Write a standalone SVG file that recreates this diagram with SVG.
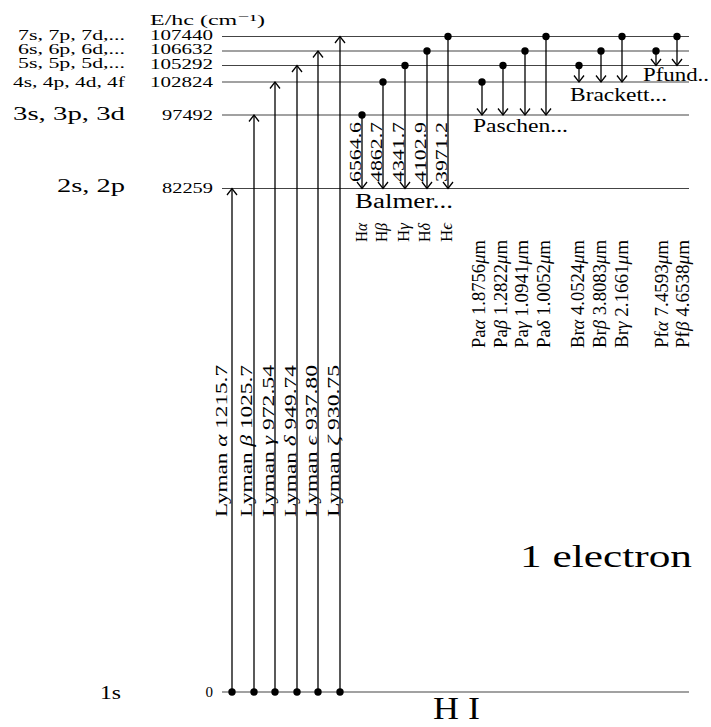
<svg xmlns="http://www.w3.org/2000/svg" width="711" height="727" viewBox="0 0 711 727">
<style>
text{font-family:"Liberation Serif","DejaVu Serif",serif;fill:#000;}
.s{font-size:15px;}
.xs{font-size:14px;}
.m{font-size:17px;}
.p{font-size:18px;}
.l{font-size:19px;}
.lvl{stroke:#444;stroke-width:1.2;fill:none;}
.tr{stroke:#000;stroke-width:1.3;fill:none;marker-start:url(#dot);marker-end:url(#arr);}
.g{font-style:italic;}
</style>
<defs>
<marker id="arr" viewBox="-8 -7 10 14" markerWidth="10" markerHeight="14" refX="0" refY="0" orient="auto" markerUnits="userSpaceOnUse"><path d="M-6.5,-5 L0,0 L-6.5,5" fill="none" stroke="#000" stroke-width="1.3"/></marker>
<marker id="dot" viewBox="-5 -5 10 10" markerWidth="10" markerHeight="10" refX="0" refY="0" markerUnits="userSpaceOnUse"><circle r="3.7" fill="#000"/></marker>
</defs>
<g id="levels">
<line class="lvl" x1="222" y1="36.5" x2="689" y2="36.5"/>
<line class="lvl" x1="222" y1="51" x2="689" y2="51"/>
<line class="lvl" x1="222" y1="65.5" x2="689" y2="65.5"/>
<line class="lvl" x1="222" y1="82" x2="689" y2="82"/>
<line class="lvl" x1="222" y1="115" x2="689" y2="115"/>
<line class="lvl" x1="222" y1="188.5" x2="689" y2="188.5"/>
<line class="lvl" x1="222" y1="692" x2="689" y2="692"/>
</g>
<g id="level-labels">
<text class="s" x="150" y="25" textLength="115" lengthAdjust="spacingAndGlyphs">E/hc (cm⁻¹)</text>
<text class="xs" x="18" y="39.5" textLength="107" lengthAdjust="spacingAndGlyphs">7s, 7p, 7d,...</text>
<text class="xs" x="18" y="54" textLength="107" lengthAdjust="spacingAndGlyphs">6s, 6p, 6d,...</text>
<text class="xs" x="18" y="68" textLength="107" lengthAdjust="spacingAndGlyphs">5s, 5p, 5d,...</text>
<text class="xs" x="13" y="86.5" textLength="112" lengthAdjust="spacingAndGlyphs">4s, 4p, 4d, 4f</text>
<text class="l" x="13" y="120" textLength="112" lengthAdjust="spacingAndGlyphs">3s, 3p, 3d</text>
<text class="l" x="57" y="192" textLength="68" lengthAdjust="spacingAndGlyphs">2s, 2p</text>
<text class="l" x="100" y="699" textLength="21" lengthAdjust="spacingAndGlyphs">1s</text>
<g text-anchor="end">
<text class="s" x="213" y="39.5" textLength="63" lengthAdjust="spacingAndGlyphs">107440</text>
<text class="s" x="213" y="54" textLength="63" lengthAdjust="spacingAndGlyphs">106632</text>
<text class="s" x="213" y="68.5" textLength="63" lengthAdjust="spacingAndGlyphs">105292</text>
<text class="s" x="213" y="87" textLength="63" lengthAdjust="spacingAndGlyphs">102824</text>
<text class="s" x="213" y="120" textLength="51" lengthAdjust="spacingAndGlyphs">97492</text>
<text class="s" x="213" y="193" textLength="51" lengthAdjust="spacingAndGlyphs">82259</text>
<text class="s" x="213" y="697">0</text>
</g>
</g>
<g id="connectors">
<line class="tr" x1="232" y1="692" x2="232" y2="188.5"/>
<line class="tr" x1="254" y1="692" x2="254" y2="115"/>
<line class="tr" x1="275" y1="692" x2="275" y2="82"/>
<line class="tr" x1="297" y1="692" x2="297" y2="65.5"/>
<line class="tr" x1="318" y1="692" x2="318" y2="51"/>
<line class="tr" x1="340" y1="692" x2="340" y2="36.5"/>
<line class="tr" x1="362" y1="115" x2="362" y2="188.5"/>
<line class="tr" x1="383" y1="82" x2="383" y2="188.5"/>
<line class="tr" x1="405" y1="65.5" x2="405" y2="188.5"/>
<line class="tr" x1="427" y1="51" x2="427" y2="188.5"/>
<line class="tr" x1="448" y1="36.5" x2="448" y2="188.5"/>
<line class="tr" x1="482" y1="82" x2="482" y2="115"/>
<line class="tr" x1="503" y1="65.5" x2="503" y2="115"/>
<line class="tr" x1="525" y1="51" x2="525" y2="115"/>
<line class="tr" x1="546" y1="36.5" x2="546" y2="115"/>
<line class="tr" x1="579" y1="65.5" x2="579" y2="82"/>
<line class="tr" x1="601" y1="51" x2="601" y2="82"/>
<line class="tr" x1="622" y1="36.5" x2="622" y2="82"/>
<line class="tr" x1="656" y1="51" x2="656" y2="65.5"/>
<line class="tr" x1="677" y1="36.5" x2="677" y2="65.5"/>
</g>
<g id="lyman-labels" class="m">
<text transform="translate(227,517) rotate(-90)" textLength="152" lengthAdjust="spacingAndGlyphs">Lyman <tspan class="g">α</tspan>  1215.7</text>
<text transform="translate(252,517) rotate(-90)" textLength="152" lengthAdjust="spacingAndGlyphs">Lyman <tspan class="g">β</tspan>  1025.7</text>
<text transform="translate(273.5,517) rotate(-90)" textLength="152" lengthAdjust="spacingAndGlyphs">Lyman <tspan class="g">γ</tspan> 972.54</text>
<text transform="translate(295.5,517) rotate(-90)" textLength="152" lengthAdjust="spacingAndGlyphs">Lyman <tspan class="g">δ</tspan> 949.74</text>
<text transform="translate(316.5,517) rotate(-90)" textLength="152" lengthAdjust="spacingAndGlyphs">Lyman <tspan class="g">ϵ</tspan> 937.80</text>
<text transform="translate(338.5,517) rotate(-90)" textLength="152" lengthAdjust="spacingAndGlyphs">Lyman <tspan class="g">ζ</tspan> 930.75</text>
</g>
<g id="balmer-labels" class="m">
<text transform="translate(360.5,182) rotate(-90)" textLength="60" lengthAdjust="spacingAndGlyphs">6564.6</text>
<text transform="translate(381.5,182) rotate(-90)" textLength="60" lengthAdjust="spacingAndGlyphs">4862.7</text>
<text transform="translate(403.5,182) rotate(-90)" textLength="60" lengthAdjust="spacingAndGlyphs">4341.7</text>
<text transform="translate(425.5,182) rotate(-90)" textLength="60" lengthAdjust="spacingAndGlyphs">4102.9</text>
<text transform="translate(446.5,182) rotate(-90)" textLength="60" lengthAdjust="spacingAndGlyphs">3971.2</text>
<text class="l" x="355" y="208" textLength="98" lengthAdjust="spacingAndGlyphs" style="font-size:20px">Balmer...</text>
<text transform="translate(367,242) rotate(-90)" textLength="19" lengthAdjust="spacingAndGlyphs">H<tspan class="g">α</tspan></text>
<text transform="translate(387,242) rotate(-90)" textLength="19" lengthAdjust="spacingAndGlyphs">H<tspan class="g">β</tspan></text>
<text transform="translate(408.5,242) rotate(-90)" textLength="19" lengthAdjust="spacingAndGlyphs">H<tspan class="g">γ</tspan></text>
<text transform="translate(430,242) rotate(-90)" textLength="19" lengthAdjust="spacingAndGlyphs">H<tspan class="g">δ</tspan></text>
<text transform="translate(452,242) rotate(-90)" textLength="19" lengthAdjust="spacingAndGlyphs">H<tspan class="g">ϵ</tspan></text>
</g>
<g id="paschen-labels" class="p">
<text class="l" x="473" y="132" textLength="95" lengthAdjust="spacingAndGlyphs">Paschen...</text>
<text transform="translate(484.5,348) rotate(-90)" textLength="108" lengthAdjust="spacingAndGlyphs">Pa<tspan class="g">α</tspan> 1.8756<tspan class="g">μ</tspan>m</text>
<text transform="translate(506.5,348) rotate(-90)" textLength="108" lengthAdjust="spacingAndGlyphs">Pa<tspan class="g">β</tspan> 1.2822<tspan class="g">μ</tspan>m</text>
<text transform="translate(528,348) rotate(-90)" textLength="108" lengthAdjust="spacingAndGlyphs">Pa<tspan class="g">γ</tspan> 1.0941<tspan class="g">μ</tspan>m</text>
<text transform="translate(549.5,348) rotate(-90)" textLength="108" lengthAdjust="spacingAndGlyphs">Pa<tspan class="g">δ</tspan> 1.0052<tspan class="g">μ</tspan>m</text>
</g>
<g id="brackett-labels" class="p">
<text class="l" x="570" y="101" textLength="97" lengthAdjust="spacingAndGlyphs">Brackett...</text>
<text transform="translate(584,348) rotate(-90)" textLength="108" lengthAdjust="spacingAndGlyphs">Br<tspan class="g">α</tspan> 4.0524<tspan class="g">μ</tspan>m</text>
<text transform="translate(606,348) rotate(-90)" textLength="108" lengthAdjust="spacingAndGlyphs">Br<tspan class="g">β</tspan> 3.8083<tspan class="g">μ</tspan>m</text>
<text transform="translate(628,348) rotate(-90)" textLength="108" lengthAdjust="spacingAndGlyphs">Br<tspan class="g">γ</tspan> 2.1661<tspan class="g">μ</tspan>m</text>
</g>
<g id="pfund-labels" class="p">
<text class="l" x="643" y="81" textLength="66" lengthAdjust="spacingAndGlyphs">Pfund..</text>
<text transform="translate(668,348) rotate(-90)" textLength="108" lengthAdjust="spacingAndGlyphs">Pf<tspan class="g">α</tspan> 7.4593<tspan class="g">μ</tspan>m</text>
<text transform="translate(689,348) rotate(-90)" textLength="108" lengthAdjust="spacingAndGlyphs">Pf<tspan class="g">β</tspan> 4.6538<tspan class="g">μ</tspan>m</text>
</g>
<g id="titles">
<text x="520" y="567" style="font-size:32px" textLength="172" lengthAdjust="spacingAndGlyphs">1 electron</text>
<text x="433" y="719" style="font-size:32px" textLength="47" lengthAdjust="spacingAndGlyphs">H I</text>
</g>
</svg>
